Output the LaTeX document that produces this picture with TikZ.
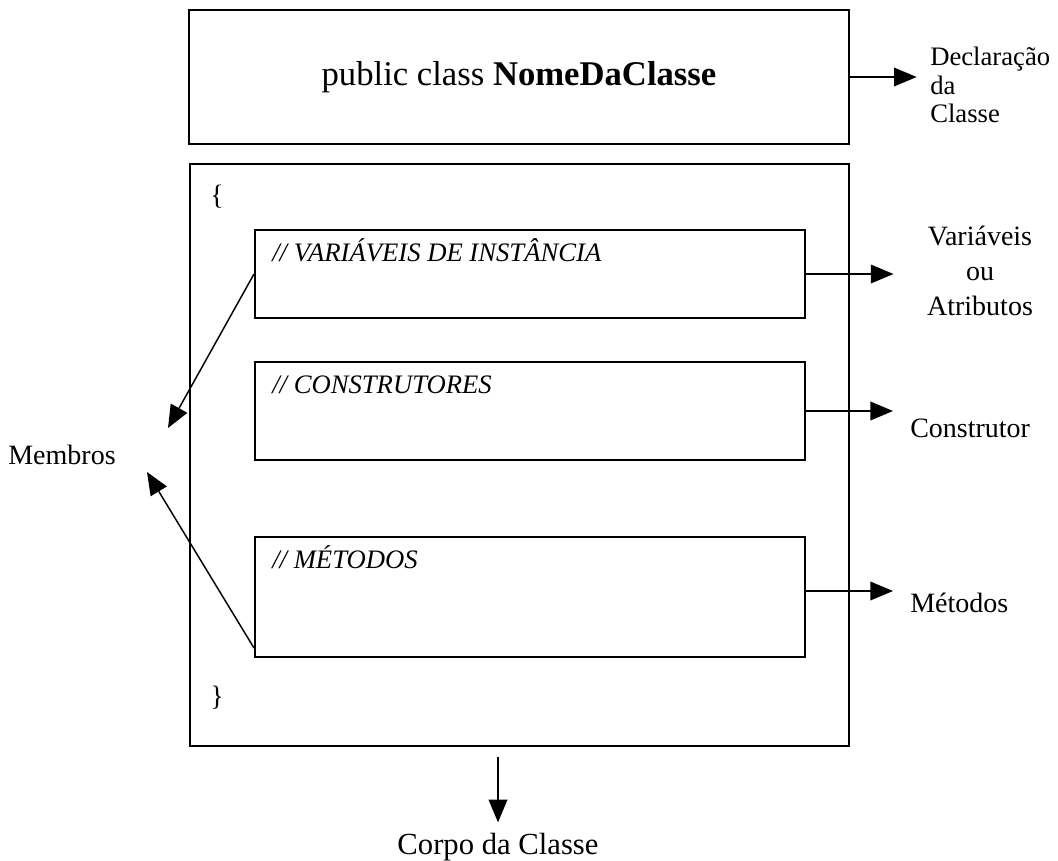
\documentclass[tikz,border=0pt]{standalone}
\usepackage{fontspec}
\setmainfont{Liberation Serif}
\usetikzlibrary{arrows.meta,positioning}

\begin{document}
\begin{tikzpicture}[
  x=0.75pt, y=-0.75pt,
  lbl/.style={font=\fontsize{21}{26}\selectfont, inner sep=0pt},
  tag/.style={font=\fontsize{20}{24}\selectfont\itshape, inner sep=0pt, anchor=base west},
  box/.style={draw, line width=1.5pt, inner sep=0pt},
  member/.style={box, minimum width=412.5pt},
  flow/.style={-{Triangle[length=17pt, width=14pt]}, line width=1.1pt},
]
  \useasboundingbox (0,0) rectangle (1058,861);

  % class header and body
  \node[box, minimum width=495pt, minimum height=100.5pt,
    font=\fontsize{26}{30}\selectfont] (decl) at (519,77)
    {public class \textbf{NomeDaClasse}};
  \node[box, minimum width=494pt, minimum height=436.5pt] (body) at (519.5,455) {};
  \node[lbl] (open) at (217,197) {\{};
  \node[lbl] (close) at (217,698) {\}};

  % members
  \node[member, minimum height=66pt] (var) at (530,274) {};
  \node[member, minimum height=73.5pt] (ctor) at (530,411) {};
  \node[member, minimum height=90pt] (met) at (530,597) {};
  \node[tag] at ([xshift=13.5pt, yshift=-24pt]var.north west) {// VARIÁVEIS DE INSTÂNCIA};
  \node[tag] at ([xshift=13.5pt, yshift=-24pt]ctor.north west) {// CONSTRUTORES};
  \node[tag] at ([xshift=13.5pt, yshift=-24pt]met.north west) {// MÉTODOS};

  % labels
  \node[lbl, font=\fontsize{20}{21.5}\selectfont, align=left, anchor=west] (declLbl) at (930,85)
    {Declaração\\da\\Classe};
  \node[lbl, align=center] (attrLbl) at (980,271) {Variáveis\\ou\\Atributos};
  \node[lbl, anchor=west] (ctorLbl) at (910,428) {Construtor};
  \node[lbl, anchor=west] (metLbl) at (910,603) {Métodos};
  \node[lbl] (memLbl) at (62,455) {Membros};
  \node[lbl, font=\fontsize{23}{28}\selectfont, anchor=north] (bodyLbl) at (498,833) {Corpo da Classe};
  \coordinate (tipA) at (168,428);
  \coordinate (tipB) at (147,472);

  \draw[flow, shorten >=10pt] (decl.east) -- (decl.east -| declLbl.west);
  \draw[flow, shorten >=25pt] (var.east) -- (var.east -| attrLbl.west);
  \draw[flow, shorten >=12.75pt] (ctor.east) -- (ctor.east -| ctorLbl.west);
  \draw[flow, shorten >=12.75pt] ([yshift=4.5pt]met.east) -- ([yshift=4.5pt]met.east -| metLbl.west);
  \draw[flow] (var.west) -- (tipA);
  \draw[flow] ([yshift=7.5pt]met.south west) -- (tipB);
  \draw[flow, shorten <=7.5pt, shorten >=8pt] (body.south -| bodyLbl.north) -- (bodyLbl.north);
\end{tikzpicture}
\end{document}
